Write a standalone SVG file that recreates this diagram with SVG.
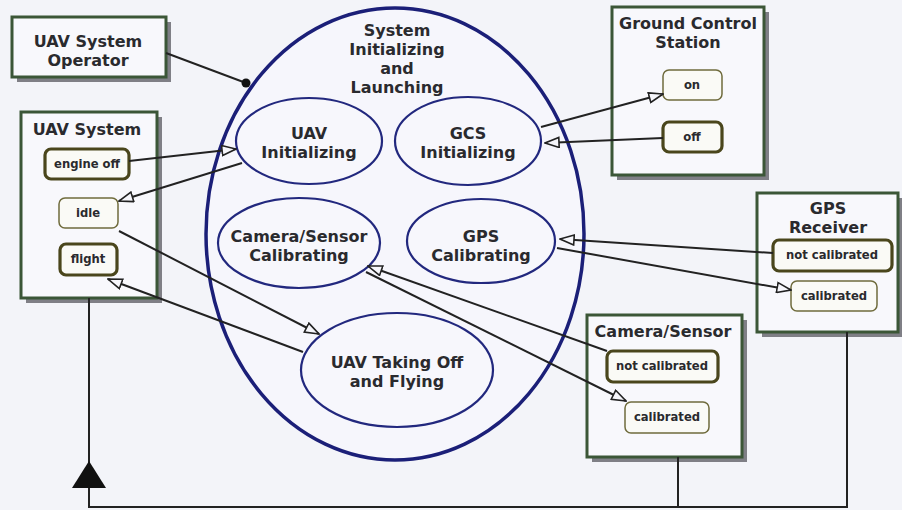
<svg xmlns="http://www.w3.org/2000/svg" width="902" height="510" viewBox="0 0 902 510">
<defs>
<marker id="open" viewBox="0 0 16 12" refX="15" refY="6" markerWidth="16" markerHeight="12" markerUnits="userSpaceOnUse" orient="auto">
<path d="M1,1 L15,6 L1,11 Z" fill="#f6f6fb" stroke="#222" stroke-width="1.6" stroke-linejoin="miter"/>
</marker>
<style>
.bg{fill:#f3f4f9}
.box{fill:#f8f8fc;stroke:#3b5637;stroke-width:3}
.shadow{fill:#7f7f86}
.st{fill:#fafaf6;stroke:#6f6b3c;stroke-width:1.5}
.stk{fill:#fafaf6;stroke:#4a461c;stroke-width:3.2}
.big{fill:#f6f6fc;stroke:#1b1f78;stroke-width:3.5}
.el{fill:#f7f7fc;stroke:#22287e;stroke-width:2.2}
text{font-family:"DejaVu Sans","Liberation Sans",sans-serif;font-weight:bold;fill:#2a2a2e;text-anchor:middle}
.t{font-size:16px}
.s{font-size:11.6px}
.c{fill:none;stroke:#222;stroke-width:2}
</style>
</defs>
<rect class="bg" x="0" y="0" width="902" height="510"/>

<g id="operator">
<rect class="shadow" x="17" y="22" width="154" height="60"/>
<rect class="box" x="12" y="17" width="154" height="60"/>
<text class="t" x="88" y="47">UAV System</text>
<text class="t" x="88" y="66">Operator</text>
</g>

<g id="uav-system">
<rect class="shadow" x="26" y="117" width="136" height="186"/>
<rect class="box" x="21" y="112" width="136" height="186"/>
<text class="t" x="87" y="135">UAV System</text>
<rect class="stk" x="45" y="149" width="84" height="30" rx="6"/>
<text class="s" x="87" y="168">engine off</text>
<rect class="st" x="59" y="198" width="59" height="30" rx="6"/>
<text class="s" x="88" y="217">idle</text>
<rect class="stk" x="60" y="244" width="57" height="31" rx="6"/>
<text class="s" x="88" y="263">flight</text>
</g>

<g id="system-init">
<ellipse class="big" cx="395" cy="234" rx="189" ry="226"/>
<text class="t" x="397" y="36">System</text>
<text class="t" x="397" y="55">Initializing</text>
<text class="t" x="397" y="74">and</text>
<text class="t" x="397" y="93">Launching</text>
</g>

<g id="uav-init">
<ellipse class="el" cx="309" cy="141" rx="73" ry="43"/>
<text class="t" x="309" y="139">UAV</text>
<text class="t" x="309" y="158">Initializing</text>
</g>

<g id="gcs-init">
<ellipse class="el" cx="468" cy="141" rx="73" ry="44"/>
<text class="t" x="468" y="139">GCS</text>
<text class="t" x="468" y="158">Initializing</text>
</g>

<g id="camera-cal">
<ellipse class="el" cx="299" cy="243" rx="81" ry="45"/>
<text class="t" x="299" y="242">Camera/Sensor</text>
<text class="t" x="299" y="261">Calibrating</text>
</g>

<g id="gps-cal">
<ellipse class="el" cx="481" cy="241" rx="74" ry="42"/>
<text class="t" x="481" y="242">GPS</text>
<text class="t" x="481" y="261">Calibrating</text>
</g>

<g id="takeoff">
<ellipse class="el" cx="397" cy="370" rx="96" ry="57"/>
<text class="t" x="397" y="368">UAV Taking Off</text>
<text class="t" x="397" y="387">and Flying</text>
</g>

<g id="gcs">
<rect class="shadow" x="617" y="12" width="152" height="168"/>
<rect class="box" x="612" y="7" width="152" height="168"/>
<text class="t" x="688" y="29">Ground Control</text>
<text class="t" x="688" y="48">Station</text>
<rect class="st" x="663" y="70" width="59" height="30" rx="6"/>
<text class="s" x="692" y="89">on</text>
<rect class="stk" x="663" y="122" width="59" height="30" rx="6"/>
<text class="s" x="692" y="141">off</text>
</g>

<g id="gps">
<rect class="shadow" x="762" y="198" width="142" height="139"/>
<rect class="box" x="757" y="193" width="141" height="139"/>
<text class="t" x="828" y="214">GPS</text>
<text class="t" x="828" y="233">Receiver</text>
<rect class="stk" x="773" y="240" width="119" height="31" rx="6"/>
<text class="s" x="832" y="259">not calibrated</text>
<rect class="st" x="791" y="281" width="86" height="30" rx="6"/>
<text class="s" x="834" y="300">calibrated</text>
</g>

<g id="camera">
<rect class="shadow" x="592" y="320" width="155" height="142"/>
<rect class="box" x="587" y="315" width="155" height="142"/>
<text class="t" x="663" y="337">Camera/Sensor</text>
<rect class="stk" x="607" y="351" width="111" height="31" rx="6"/>
<text class="s" x="662" y="370">not calibrated</text>
<rect class="st" x="625" y="402" width="84" height="31" rx="6"/>
<text class="s" x="667" y="421">calibrated</text>
</g>

<g id="connectors">
<line class="c" x1="166" y1="53" x2="246" y2="83"/>
<circle cx="246" cy="83" r="4.5" fill="#111"/>
<line class="c" x1="129" y1="161" x2="236" y2="149" marker-end="url(#open)"/>
<line class="c" x1="242" y1="163" x2="119" y2="201" marker-end="url(#open)"/>
<line class="c" x1="119" y1="231" x2="319" y2="334" marker-end="url(#open)"/>
<line class="c" x1="303" y1="352" x2="108" y2="279" marker-end="url(#open)"/>
<line class="c" x1="541" y1="127" x2="663" y2="94" marker-end="url(#open)"/>
<line class="c" x1="663" y1="138" x2="545" y2="143" marker-end="url(#open)"/>
<line class="c" x1="773" y1="253" x2="560" y2="239" marker-end="url(#open)"/>
<line class="c" x1="557" y1="248" x2="791" y2="290" marker-end="url(#open)"/>
<line class="c" x1="607" y1="351" x2="368" y2="266" marker-end="url(#open)"/>
<line class="c" x1="366" y1="272" x2="626" y2="401" marker-end="url(#open)"/>
<polyline class="c" points="89,298 89,507 847,507 847,332"/>
<line class="c" x1="678" y1="457" x2="678" y2="507"/>
<polygon points="89,461 106,488 72,488" fill="#111"/>
</g>
</svg>
